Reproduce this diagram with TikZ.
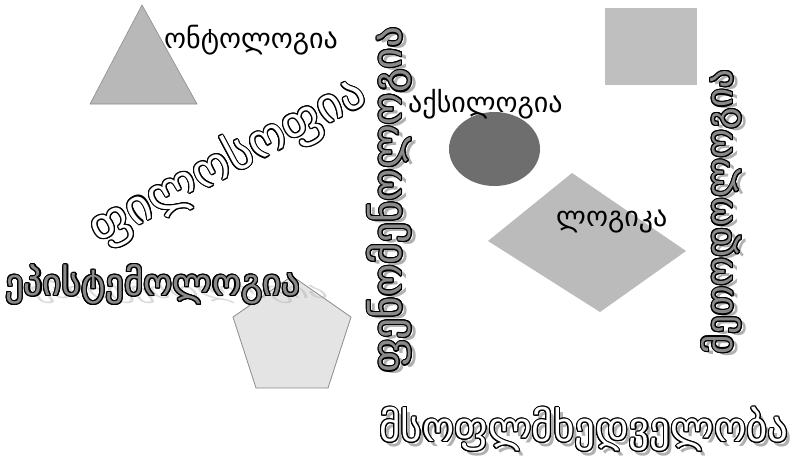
\documentclass[tikz,border=0pt]{standalone}
\usepackage{fontspec}
\setmainfont{DejaVu Sans}
\newfontfamily\geo{DejaVu Sans}
\usepackage{contour}
\contourlength{1.1pt}
\definecolor{shapegray}{HTML}{B8B8B8}
\definecolor{edgegray}{HTML}{8C8C8C}
\definecolor{darkfill}{HTML}{6E6E6E}
\definecolor{penta}{HTML}{E4E4E4}
\definecolor{wordgray}{HTML}{8A8A8A}
\definecolor{shadowgray}{HTML}{B0B0B0}
\tikzset{
  plainword/.style={inner sep=0pt, font=\geo\fontsize{28}{32}\selectfont, text=black},
  bigword/.style={inner sep=0pt, font=\geo\fontsize{40}{46}\selectfont},
  shadowword/.style={inner sep=0pt, font=\geo\fontsize{40}{46}\selectfont, text=shadowgray},
  shapebox/.style={fill=shapegray, draw=edgegray, line width=0.6pt}
}
\begin{document}
\begin{tikzpicture}[x=1pt,y=-1pt]
\fill[white] (0,0) rectangle (791,461);
\useasboundingbox (0,0) rectangle (791,461);
% shapes
\draw[shapebox] (142,5) -- (197,104) -- (90,104) -- cycle;
\fill[shapegray!90!white] (605,8) rectangle (697,85);
\fill[darkfill] (494.5,149) ellipse [x radius=45.5, y radius=37];
\fill[shapegray!95!white] (572,173) -- (686,251) -- (600,312) -- (488,241) -- cycle;
\draw[fill=penta, draw=edgegray, line width=0.8pt]
  (292,276) -- (351,317) -- (328,388) -- (256,388) -- (233,317) -- cycle;
% plain labels
\node[plainword, anchor=west] (onto) at (164,40) {ონტოლოგია};
\node[plainword, anchor=west] (axio) at (408,104) {აქსილოგია};
\node[plainword, anchor=west] (logic) at (556,222) {ლოგიკა};
% philosophy (outlined, rotated)
\node[bigword, font=\geo\fontsize{48}{56}\selectfont, rotate=28] (philo) at (228,162) {\contour{black}{\textcolor{white}{ფილოსოფია}}};
% epistemology
\node[shadowword, font=\geo\fontsize{37}{44}\selectfont, anchor=west, xslant=-0.8, yscale=0.6, opacity=0.45] (epish) at (30,292) {ეპისტემოლოგია};
\node[bigword, font=\geo\fontsize{37}{44}\selectfont, anchor=west] (epist) at (5,285) {\contour{black}{\textcolor{wordgray}{ეპისტემოლოგია}}};
% middle vertical word
\node[shadowword, font=\geo\fontsize{41}{46}\selectfont, rotate=90] (phensh) at (394,203) {ფენომენოლოგია};
\node[bigword, font=\geo\fontsize{41}{46}\selectfont, rotate=90] (phen) at (390,200) {\contour{black}{\textcolor{wordgray}{ფენომენოლოგია}}};
% methodology
\node[shadowword, font=\geo\fontsize{37}{44}\selectfont, rotate=90] (methsh) at (726,215) {მეთოდოლოგია};
\node[bigword, font=\geo\fontsize{37}{44}\selectfont, rotate=90] (meth) at (722,212) {\contour{black}{\textcolor{wordgray}{მეთოდოლოგია}}};
% worldview
\node[shadowword, font=\geo\fontsize{41}{46}\selectfont] (worldsh) at (588,434) {მსოფლმხედველობა};
\node[bigword, font=\geo\fontsize{41}{46}\selectfont] (world) at (584,430) {\contour{black}{\textcolor{white}{მსოფლმხედველობა}}};
\end{tikzpicture}
\end{document}
